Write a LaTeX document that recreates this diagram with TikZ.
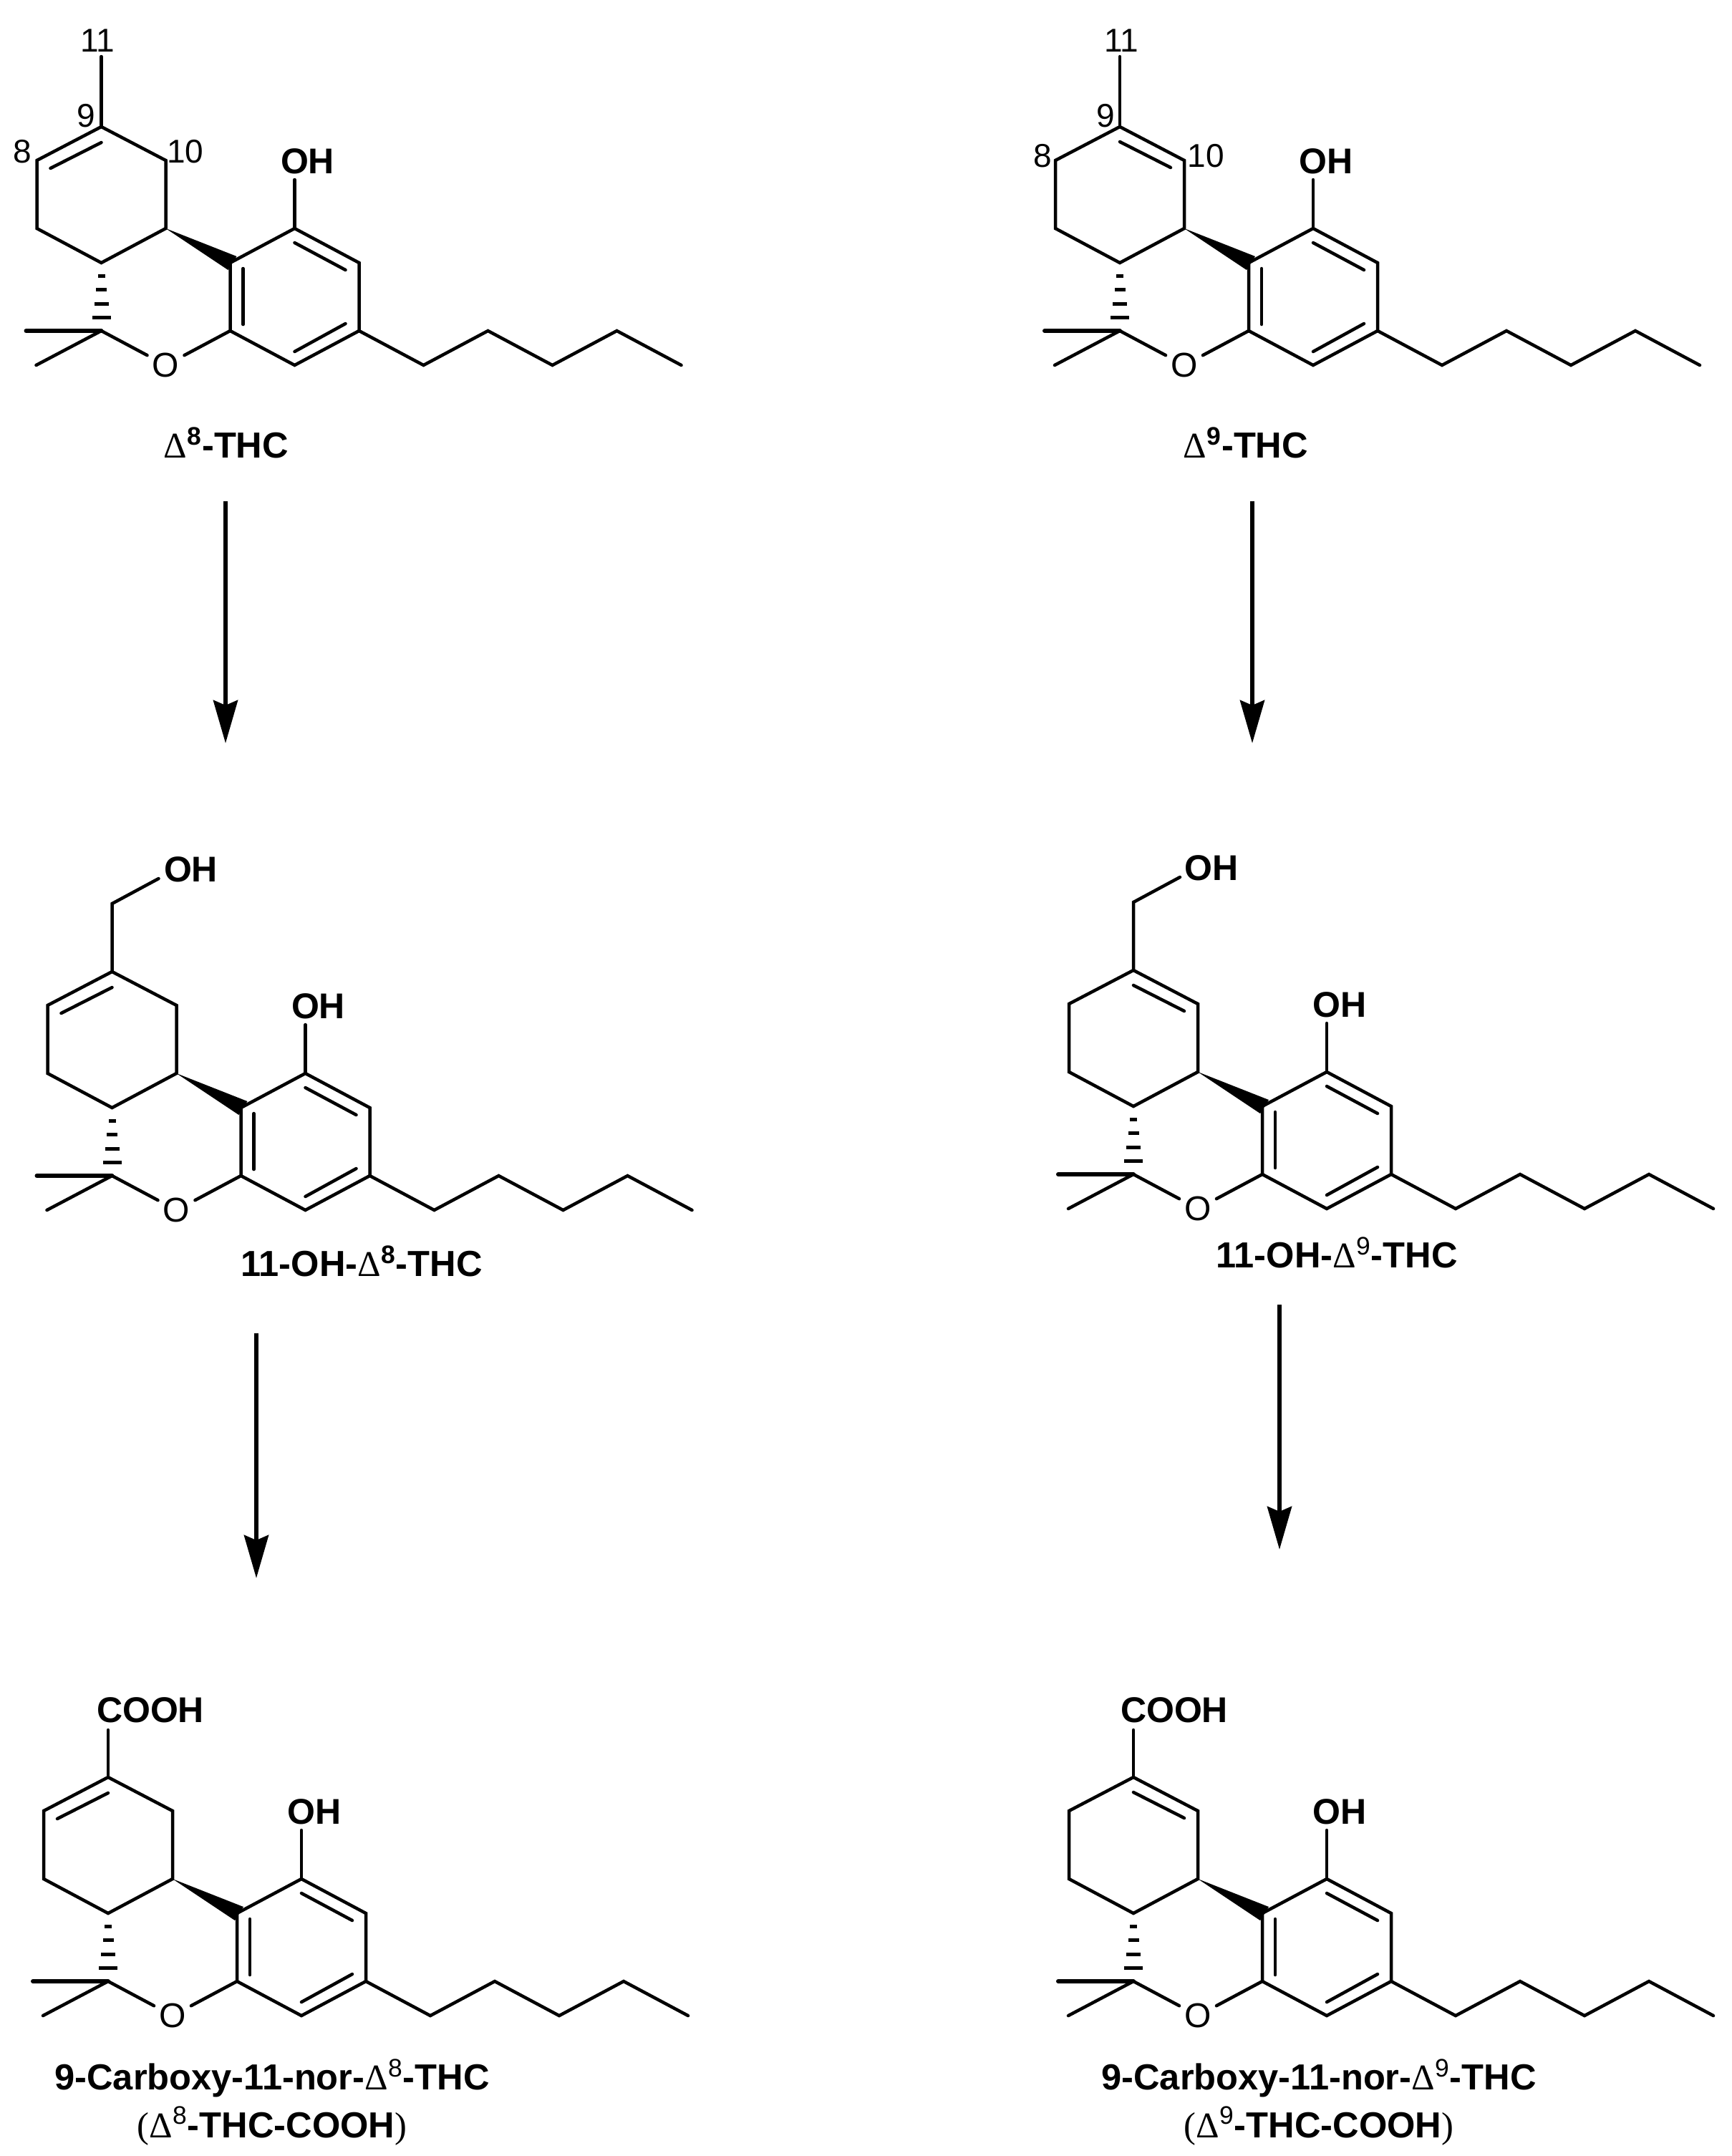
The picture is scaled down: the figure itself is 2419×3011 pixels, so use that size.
\documentclass[tikz,border=0pt]{standalone}
\usepackage{fontspec}
\setmainfont{Liberation Sans}
\newfontfamily\deltafont{Liberation Serif}
\usetikzlibrary{arrows.meta}
\newcommand{\dlt}[1]{{\deltafont\mdseries Δ}\textsuperscript{#1}}
\newcommand{\dltm}[1]{{\deltafont\mdseries Δ}{\mdseries\textsuperscript{#1}}}
\newcommand{\thinp}[1]{{\deltafont\mdseries #1}}
% ring system shared by all six molecules: #1 prefix, #2 #3 place of C6
\newcommand{\thccore}[3]{
    \begin{scope}[shift={(#2,#3)}]
        \coordinate (#1c6) at (0,0);
        \coordinate (#1c9) at (0,-285);
        \coordinate (#1c8) at (-90,-238);
        \coordinate (#1c7) at (-90,-143);
        \coordinate (#1c6a) at (0,-95);
        \coordinate (#1c10a) at (90,-143);
        \coordinate (#1c10) at (90,-238);
        \coordinate (#1c10b) at (180,-95);
        \coordinate (#1c1) at (270,-143);
        \coordinate (#1c2) at (360,-95);
        \coordinate (#1c3) at (360,0);
        \coordinate (#1c4) at (270,48);
        \coordinate (#1c4a) at (180,0);
        \coordinate (#1me1) at (-105,0);
        \coordinate (#1me2) at (-91,48);
        \coordinate (#1p1) at (450,48);
        \coordinate (#1p2) at (540,0);
        \coordinate (#1p3) at (630,48);
        \coordinate (#1p4) at (720,0);
        \coordinate (#1p5) at (810,48);
        \coordinate (#1ohend) at (270,-211);
        \coordinate (#1wa) at (189,-104);
        \coordinate (#1wb) at (177,-85);
        \node[ringo] (#1o) at (90,48) {O};
        \node[atom] (#1oh) at (288,-237) {OH};
        \draw[bond] (#1c9) -- (#1c8) -- (#1c7) -- (#1c6a) -- (#1c10a) -- (#1c10) -- (#1c9) -- cycle;
        \draw[bond] (#1c10b) -- (#1c1) -- (#1c2) -- (#1c3) -- (#1c4) -- (#1c4a) -- (#1c10b) -- cycle;
        \draw[bond] (#1c3) -- (#1p1) -- (#1p2) -- (#1p3) -- (#1p4) -- (#1p5);
        \draw[bond] (#1c1) -- (#1ohend);
        \draw[bond] (#1c6) -- (#1o);
        \draw[bond] (#1o) -- (#1c4a);
        \draw[bond] (#1c6) -- (#1me2);
        \draw[bond,line width=3pt] (#1c6) -- (#1me1);
        \fill (#1c10a) -- (#1wa) -- (#1wb) -- cycle;
        % inner lines of the benzene ring
        \draw[inbond] (270,-123) -- (341,-85);
        \draw[inbond] (198,-87) -- (198,-9);
        \draw[inbond] (341,-10) -- (270,29);
        % hashed bond
        \foreach \hy/\hw in {-77/10,-58/15,-38/20,-19/26}
            \fill (-\hw/2,\hy-2.5) rectangle (\hw/2,\hy+2.5);
    \end{scope}
}
% inner line of the C8=C9 and of the C9=C10 double bond
\newcommand{\dbeight}[2]{\draw[inbond,shift={(#1,#2)}] (-71,-227) -- (0,-263);}
\newcommand{\dbnine}[2]{\draw[inbond,shift={(#1,#2)}] (0,-264) -- (71,-228);}

\begin{document}
\begin{tikzpicture}[x=0.5pt,y=-0.5pt]
    \tikzstyle{bond}=[line width=2.25pt,line cap=round,line join=miter]
    \tikzstyle{inbond}=[line width=2.25pt,line cap=round]
    \tikzstyle{atom}=[inner sep=0pt,font=\fontsize{25}{25}\selectfont\bfseries]
    \tikzstyle{ringo}=[circle,inner sep=0pt,minimum size=29pt,font=\fontsize{24}{24}\selectfont]
    \tikzstyle{num}=[inner sep=0pt,font=\fontsize{23}{23}\selectfont]
    \tikzstyle{caption}=[inner sep=0pt,font=\fontsize{25.3}{25.3}\selectfont\bfseries]
    \tikzstyle{step arrow}=[line width=3pt,-{Stealth[length=30pt,width=17pt,inset=3.5pt]}]
    \useasboundingbox (0,0) rectangle (2419,3011);

    % top row
    \thccore{a}{141.5}{462}
    \dbeight{141.5}{462}
    \coordinate (ame) at (141.5,79);
    \draw[bond] (ac9) -- (ame);
    \node[num] (an11) at (136,57) {11};
    \node[num] (an9) at (120,162) {9};
    \node[num] (an8) at (31,212) {8};
    \node[num] (an10) at (259,212) {10};
    \node[caption] (acap) at (316,618) {\dlt{8}-THC};

    \thccore{b}{1564}{462}
    \dbnine{1564}{462}
    \coordinate (bme) at (1564,79);
    \draw[bond] (bc9) -- (bme);
    \node[num] (bn11) at (1566,57) {11};
    \node[num] (bn9) at (1544,162) {9};
    \node[num] (bn8) at (1456,218) {8};
    \node[num] (bn10) at (1684,218) {10};
    \node[caption] (bcap) at (1740,618) {\dlt{9}-THC};

    % middle row
    \thccore{c}{156.5}{1642}
    \dbeight{156.5}{1642}
    \coordinate (cch) at (156.5,1262);
    \coordinate (chy) at (221.5,1227);
    \node[atom] (coh2) at (266.5,1214) {OH};
    \draw[bond] (cc9) -- (cch) -- (chy);
    \node[caption] (ccap) at (505,1761) {11-OH-\dlt{8}-THC};

    \thccore{d}{1583}{1640}
    \dbnine{1583}{1640}
    \coordinate (dch) at (1583,1260);
    \coordinate (dhy) at (1648,1225);
    \node[atom] (doh2) at (1692,1212) {OH};
    \draw[bond] (dc9) -- (dch) -- (dhy);
    \node[caption] (dcap) at (1867,1749) {11-OH-\dltm{9}-THC};

    % bottom row
    \thccore{e}{151}{2767}
    \dbeight{151}{2767}
    \coordinate (eco) at (151,2416);
    \node[atom] (ecooh) at (210,2388) {COOH};
    \draw[bond] (ec9) -- (eco);
    \node[caption] (ecap) at (380,2902) {9-Carboxy-11-nor-\dltm{8}-THC};
    \node[caption] (ecap2) at (380,2969) {\thinp{(}\dltm{8}-THC-COOH\thinp{)}};

    \thccore{f}{1583}{2767}
    \dbnine{1583}{2767}
    \coordinate (fco) at (1583,2416);
    \node[atom] (fcooh) at (1640,2388) {COOH};
    \draw[bond] (fc9) -- (fco);
    \node[caption] (fcap) at (1842,2902) {9-Carboxy-11-nor-\dltm{9}-THC};
    \node[caption] (fcap2) at (1842,2969) {\thinp{(}\dltm{9}-THC-COOH\thinp{)}};

    % arrows
    \coordinate (s1) at (315,700);
    \coordinate (t1) at (315,1038);
    \coordinate (s2) at (1749,700);
    \coordinate (t2) at (1749,1038);
    \coordinate (s3) at (358,1862);
    \coordinate (t3) at (358,2204);
    \coordinate (s4) at (1787,1822);
    \coordinate (t4) at (1787,2164);
    \draw[step arrow] (s1) -- (t1);
    \draw[step arrow] (s2) -- (t2);
    \draw[step arrow] (s3) -- (t3);
    \draw[step arrow] (s4) -- (t4);
\end{tikzpicture}
\end{document}
